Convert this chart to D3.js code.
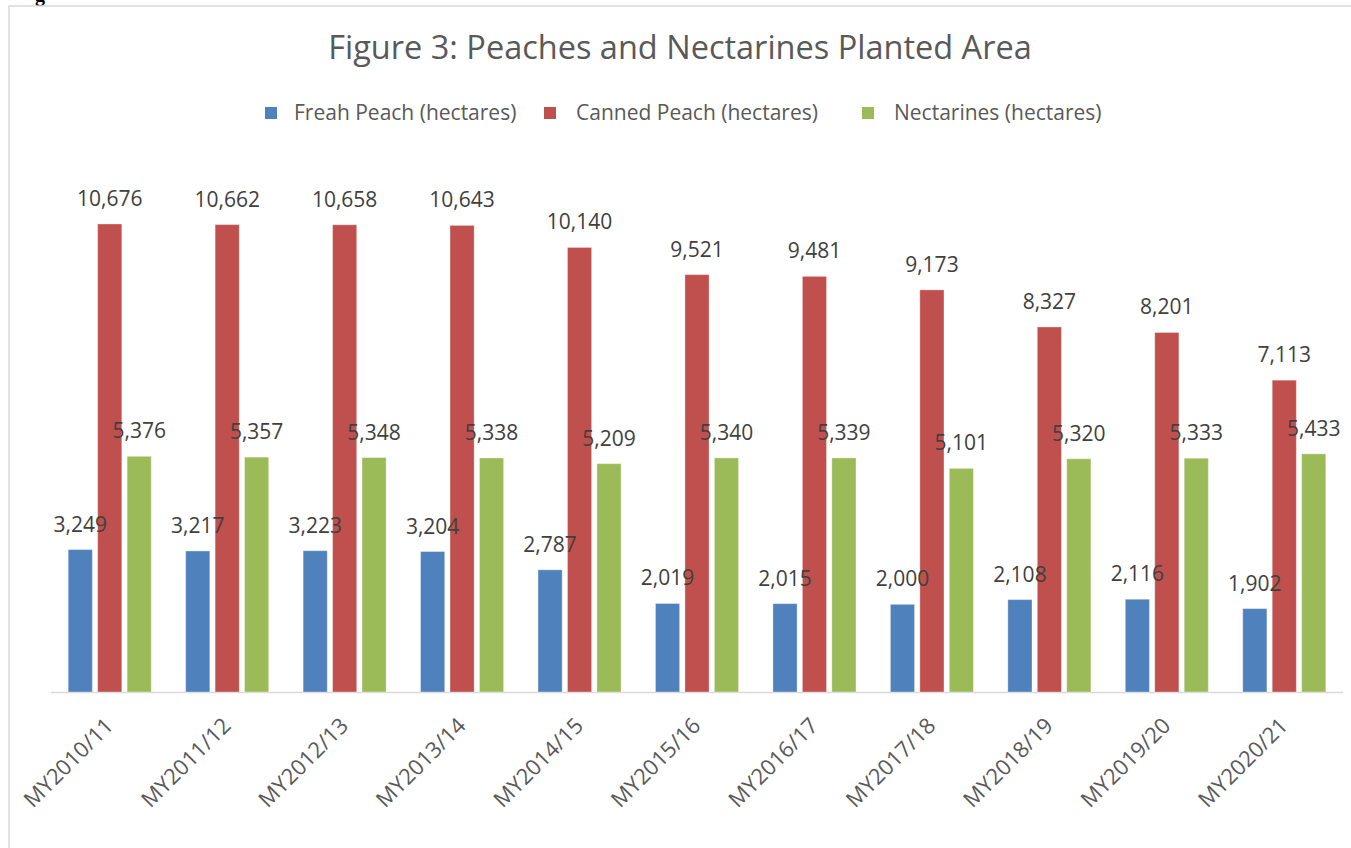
<!DOCTYPE html>
<html>
<head>
<meta charset="utf-8">
<script src="https://cdn.jsdelivr.net/npm/d3@7"></script>
<style>
  html, body { margin: 0; padding: 0; background: #fff; overflow: hidden; }
</style>
</head>
<body>
<main></main>
<script>
const years = ['MY2010/11', 'MY2011/12', 'MY2012/13', 'MY2013/14', 'MY2014/15', 'MY2015/16',
  'MY2016/17', 'MY2017/18', 'MY2018/19', 'MY2019/20', 'MY2020/21'];
const seriesNames = ['Freah Peach (hectares)', 'Canned Peach (hectares)', 'Nectarines (hectares)'];
const freshPeach = [3249, 3217, 3223, 3204, 2787, 2019, 2015, 2000, 2108, 2116, 1902];
const cannedPeach = [10676, 10662, 10658, 10643, 10140, 9521, 9481, 9173, 8327, 8201, 7113];
const nectarines = [5376, 5357, 5348, 5338, 5209, 5340, 5339, 5101, 5320, 5333, 5433];
const seriesValues = [freshPeach, cannedPeach, nectarines];
const colors = ['#4F81BD', '#C0504D', '#9BBB59'];

const width = 1351;
const height = 848;
const font = "'Open Sans', 'Noto Sans', sans-serif";

const svg = d3.select('main')
  .append('svg')
  .attr('width', width)
  .attr('height', height)

// leftover from the document above the chart
svg.append('text')
  .text('g')
  .attr('x', 35)
  .attr('y', 1)
  .style('font-family', "'Liberation Serif', serif")
  .style('font-weight', 700)
  .style('font-size', '20px')

// chart frame
svg.append('rect')
  .attr('x', 9)
  .attr('y', 6)
  .attr('width', 1500)
  .attr('height', 1000)
  .attr('fill', 'none')
  .attr('stroke', '#d9d9d9')
  .attr('stroke-width', 1.5)

// Title
svg.append('text')
  .text('Figure 3: Peaches and Nectarines Planted Area')
  .attr('x', 680)
  .attr('y', 59)
  .attr('text-anchor', 'middle')
  .style('font-family', font)
  .style('font-size', '32.5px')
  .style('fill', '#595959')

// Legend
const legendX = [265, 544, 862];
const legendGap = [29, 32, 32];
const legend = svg.selectAll('.legend-item')
  .data(seriesNames)
  .enter()
  .append('g')
  .attr('class', 'legend-item')
  .attr('transform', (d, i) => `translate(${legendX[i]}, 107)`)

legend.append('rect')
  .attr('width', 12)
  .attr('height', 12)
  .attr('fill', (d, i) => colors[i])

legend.append('text')
  .text(d => d)
  .attr('x', (d, i) => legendGap[i])
  .attr('y', 13)
  .style('font-family', font)
  .style('font-size', '21px')
  .style('fill', '#595959')

// Scales
const x0 = d3.scaleBand()
  .domain(years)
  .range([51, 1343])
  .paddingInner(0.293)
  .paddingOuter(0.1465)

const x1 = d3.scaleBand()
  .domain(d3.range(seriesNames.length))
  .range([0, x0.bandwidth()])
  .paddingInner(0.18)

const y = d3.scaleLinear()
  .domain([0, 12000])
  .range([692, 692 - 12000 * 0.04384])

// Axis line
svg.append('line')
  .attr('x1', 51)
  .attr('x2', 1343)
  .attr('y1', y(0) + 0.5)
  .attr('y2', y(0) + 0.5)
  .attr('stroke', '#d9d9d9')
  .attr('stroke-width', 1.5)

const cellData = years.flatMap((year, i) =>
  seriesValues.map((vals, s) => ({ year, s, value: vals[i] })))

// Bars
svg.append('g')
  .selectAll('rect')
  .data(cellData)
  .enter()
  .append('rect')
  .attr('x', d => x0(d.year) + x1(d.s))
  .attr('y', d => y(d.value))
  .attr('width', x1.bandwidth())
  .attr('height', d => y(0) - y(d.value))
  .attr('fill', d => colors[d.s])
  .attr('stroke', 'rgba(255,255,255,0.35)')
  .attr('stroke-width', 1)

// Value labels (on top of all bars)
svg.append('g')
  .selectAll('text')
  .data(cellData)
  .enter()
  .append('text')
  .text(d => d3.format(',')(d.value))
  .attr('x', d => x0(d.year) + x1(d.s) + x1.bandwidth() / 2)
  .attr('y', d => y(d.value) - 18)
  .attr('text-anchor', 'middle')
  .style('font-family', font)
  .style('font-size', '21px')
  .style('fill', '#404040')

// Category labels
svg.selectAll('.xlabel')
  .data(years)
  .enter()
  .append('text')
  .attr('class', 'xlabel')
  .text(d => d)
  .attr('text-anchor', 'end')
  .attr('transform', d => `translate(${x0(d) + x0.bandwidth() / 2 + 5}, 727) rotate(-45)`)
  .style('font-family', font)
  .style('font-size', '22px')
  .style('fill', '#595959')
</script>
</body>
</html>
